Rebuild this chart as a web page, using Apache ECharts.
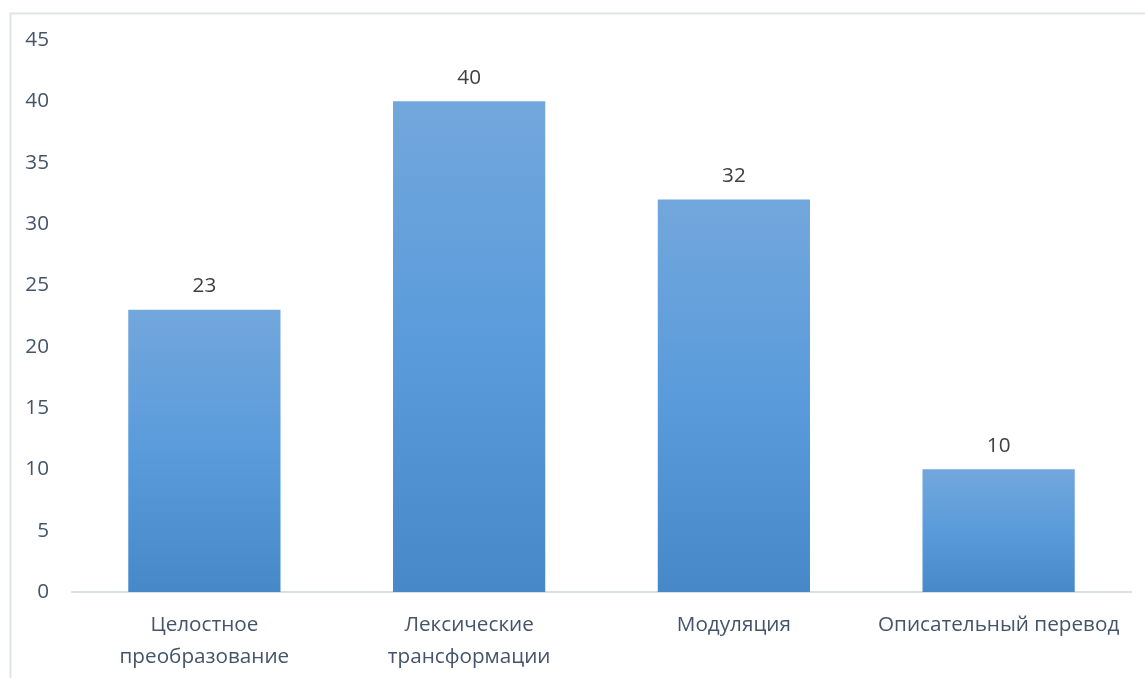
<!DOCTYPE html>
<html>
<head>
<meta charset="utf-8">
<script src="https://cdn.jsdelivr.net/npm/echarts@6/dist/echarts.min.js"></script>
<style>
  html, body { margin: 0; padding: 0; background: #fff; }
  #chart { width: 1145px; height: 678px; }
</style>
</head>
<body>
<div id="chart"></div>
<script>
// категории и значения
const categories = ['Целостное\nпреобразование', 'Лексические\nтрансформации', 'Модуляция', 'Описательный перевод'];
const values = [23, 40, 32, 10];
const yTicks = [0, 5, 10, 15, 20, 25, 30, 35, 40, 45];

const textColor = '#44546a';
const fontFamily = '"Open Sans", "Noto Sans", sans-serif';

const chart = echarts.init(document.getElementById('chart'));

const option = {
  animation: false,
  backgroundColor: '#fff',
  graphic: [
    {
      type: 'rect',
      left: 8,
      top: 11,
      shape: { width: 1200, height: 720 },
      style: { fill: 'none', stroke: '#dfe3ea', lineWidth: 2 },
      silent: true,
    },
  ],
  grid: {
    left: 72,
    right: 14,
    top: 40,
    bottom: 86,
  },
  xAxis: {
    type: 'category',
    data: categories,
    axisLine: { lineStyle: { color: '#d9dde5', width: 2 } },
    axisTick: { show: false },
    axisLabel: {
      color: textColor,
      fontSize: 20.7,
      fontFamily: fontFamily,
      lineHeight: 32,
      margin: 17,
      interval: 0,
    },
  },
  yAxis: {
    type: 'value',
    min: yTicks[0],
    max: yTicks[yTicks.length - 1],
    interval: 5,
    axisLine: { show: false },
    axisTick: { show: false },
    splitLine: { show: false },
    axisLabel: {
      color: textColor,
      fontSize: 20.7,
      fontFamily: fontFamily,
      margin: 23,
    },
  },
  series: [
    {
      type: 'bar',
      data: values,
      barWidth: '57.5%',
      itemStyle: {
        color: new echarts.graphic.LinearGradient(0, 0, 0, 1, [
          { offset: 0, color: '#72a7dc' },
          { offset: 0.5, color: '#5a9bdb' },
          { offset: 1, color: '#4688c8' },
        ]),
      },
      label: {
        show: true,
        position: 'top',
        distance: 13,
        color: '#404040',
        fontSize: 20.7,
        fontFamily: fontFamily,
      },
    },
  ],
};

chart.setOption(option);
</script>
</body>
</html>
